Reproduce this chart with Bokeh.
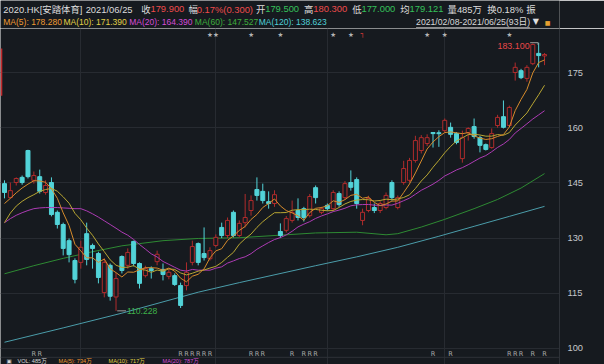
import numpy as np
import pandas as pd
from bokeh.plotting import figure
from bokeh.models import ColumnDataSource, Range1d, LinearAxis, FixedTicker, Grid, Span, BoxAnnotation
from bokeh.layouts import column
from bokeh.embed import file_html
from bokeh.resources import INLINE
from bokeh.core.properties import value

# ---------------- data ----------------
open_ = [144.8, 141.0, 145.1, 146.5, 153.8, 145.7, 146.7, 142.4, 145.1, 137.0,
         133.7, 129.3, 123.9, 123.4, 131.2, 128.0, 125.8, 115.2, 122.6, 114.0,
         125.0, 122.6, 129.1, 123.1, 119.8, 121.7, 123.6, 121.5, 119.6, 119.8,
         117.1, 117.1, 123.4, 128.5, 125.8, 124.4, 128.0, 132.9, 130.7, 137.0,
         130.7, 134.2, 137.5, 143.2, 142.7, 139.9, 139.4, 131.8, 132.1, 134.8,
         137.5, 138.0, 136.1, 143.7, 137.0, 138.9, 138.0, 142.1, 141.0, 145.1,
         145.9, 134.8, 137.5, 138.3, 137.5, 138.3, 145.1, 138.3, 145.1, 145.7,
         151.1, 153.8, 155.7, 158.7, 158.6, 159.2, 160.1, 158.4, 151.6, 158.7,
         160.3, 157.3, 155.4, 154.6, 160.6, 163.0, 160.6, 175.0, 175.5, 173.4,
         177.4, 180.2, 179.5]
high = [145.7, 145.1, 146.5, 147.0, 154.0, 148.1, 148.6, 145.7, 146.5, 137.5,
        134.2, 129.9, 124.5, 129.3, 134.2, 128.5, 126.3, 124.5, 123.1, 120.5,
        125.3, 127.2, 129.3, 123.4, 122.5, 122.3, 126.6, 123.1, 121.5, 120.4,
        117.9, 123.4, 129.3, 128.8, 132.9, 127.5, 131.0, 134.2, 135.6, 137.5,
        134.8, 142.0, 141.6, 146.5, 144.8, 142.7, 143.0, 134.0, 136.0, 140.2,
        140.8, 138.5, 142.0, 144.3, 138.5, 139.4, 143.0, 142.7, 145.5, 148.4,
        146.5, 138.0, 141.5, 139.4, 140.0, 142.4, 145.7, 141.6, 151.0, 151.8,
        157.8, 158.0, 158.2, 158.7, 159.3, 162.5, 161.4, 158.8, 159.2, 160.1,
        162.5, 157.8, 155.7, 159.8, 163.5, 167.4, 166.0, 177.7, 176.0, 177.0,
        182.9, 183.1, 180.3]
low = [140.8, 140.8, 144.3, 144.5, 146.2, 144.8, 142.1, 141.8, 135.9, 132.6,
       125.3, 123.4, 117.7, 121.7, 122.6, 121.7, 117.7, 113.9, 113.0, 110.228,
       120.4, 121.7, 122.3, 116.3, 119.3, 119.0, 122.6, 118.5, 118.8, 117.0,
       111.0, 115.8, 122.6, 122.6, 123.9, 123.9, 127.5, 130.0, 130.0, 130.2,
       130.2, 132.9, 136.1, 140.2, 139.4, 138.0, 138.5, 130.0, 131.5, 134.2,
       134.8, 134.5, 135.6, 139.4, 136.5, 137.5, 137.5, 138.5, 140.5, 142.9,
       138.0, 133.5, 137.0, 136.8, 136.8, 137.8, 140.2, 137.8, 144.5, 145.1,
       150.5, 153.0, 155.0, 154.6, 154.8, 158.7, 157.3, 155.5, 150.5, 156.5,
       157.0, 153.3, 153.8, 154.3, 160.0, 159.8, 160.3, 172.8, 173.2, 172.5,
       177.0, 176.4, 177.0]
close = [142.4, 142.9, 146.2, 145.1, 146.7, 147.0, 142.7, 144.3, 136.4, 133.7,
         127.2, 125.5, 118.8, 127.5, 124.2, 127.2, 119.3, 123.4, 114.2, 119.0,
         121.2, 126.1, 123.1, 117.7, 121.7, 121.2, 125.6, 120.1, 120.7, 117.4,
         111.7, 120.7, 127.7, 123.4, 124.7, 126.6, 130.2, 130.7, 134.8, 130.7,
         134.0, 135.6, 140.2, 141.6, 140.2, 139.4, 141.8, 130.7, 135.3, 137.0,
         135.6, 135.6, 141.3, 141.0, 138.0, 138.0, 142.4, 139.1, 144.8, 143.8,
         139.4, 137.0, 140.8, 137.5, 139.4, 141.6, 141.0, 141.0, 148.9, 151.1,
         156.5, 157.3, 157.3, 158.4, 158.4, 162.0, 158.2, 156.0, 157.3, 159.8,
         157.6, 155.2, 154.1, 158.4, 162.8, 160.1, 165.5, 176.4, 173.6, 176.4,
         182.6, 179.6, 179.9]

# moving-average values at the window start (earlier closes not shown)
ma5_head = [139.4, 140.8, 142.3, 143.6]
ma10_head = [134.2, 136.8, 138.7, 140.0, 141.0, 141.8, 142.7, 143.2, 143.5]
ma20_head = [134.2, 135.3, 136.2, 136.9, 137.5, 138.0, 138.2, 138.3, 138.3, 138.3,
             138.2, 138.1, 138.0, 138.0, 137.4, 136.6, 135.7, 134.7, 133.7]
# long MAs at candle indices
ma60_idx = [0, 5, 10, 15, 20, 27, 33, 40, 53, 60, 65, 67, 71, 75, 80, 84, 88, 92]
ma60_val = [120.3, 122.5, 124.5, 126.3, 127.9, 129.3, 129.9, 130.1, 131.4, 131.6,
            130.9, 131.2, 133.0, 135.1, 138.0, 140.5, 143.6, 147.527]
ma120_idx = [0, 10, 20, 33, 40, 53, 60, 67, 74, 80, 86, 92]
ma120_val = [101.7, 105.6, 109.6, 115.3, 117.9, 122.5, 124.9, 127.5, 130.5, 133.2,
             135.9, 138.623]

ma_names = ["MA(5)", "MA(10)", "MA(20)", "MA(60)", "MA(120)"]
ma_last = [178.280, 171.390, 164.390, 147.527, 138.623]

price_ticks = [100, 115, 130, 145, 160, 175]
star_idx = [35, 36, 42, 47, 56, 59, 72, 75, 86]
flag_idx = [61]
r_idx = [5, 6, 30, 31, 32, 33, 34, 35, 42, 43, 44, 49, 51, 52, 53, 73, 76, 86, 87, 88, 90, 92]

avg_price = "179.121"
volume_txt = "量485万"
turnover_txt = "换0.18%"
vol_row = ["VOL: 485万", "MA(5): 734万", "MA(10): 717万", "MA(20): 787万"]

holidays = ["2021-02-12", "2021-02-15", "2021-04-02", "2021-04-05", "2021-04-06",
            "2021-05-19", "2021-06-14"]
dates = [d for d in pd.bdate_range("2021-02-08", "2021-06-25")
         if d.strftime("%Y-%m-%d") not in holidays]

# ---------------- derived ----------------
n = len(close)
idx = np.arange(n)
month_starts = [i for i in range(1, len(dates)) if dates[i].month != dates[i - 1].month]

cs = pd.Series(close)
ma5 = cs.rolling(5).mean().to_numpy(); ma5[:4] = ma5_head
ma10 = cs.rolling(10).mean().to_numpy(); ma10[:9] = ma10_head
ma20 = cs.rolling(20).mean().to_numpy(); ma20[:19] = ma20_head

o = np.array(open_); c = np.array(close); h = np.array(high); l = np.array(low)
up = c >= o
top = np.maximum(o, c); bot = np.minimum(o, c)
thin = (top - bot) < 0.25
mid = (top + bot) / 2
top = np.where(thin, mid + 0.125, top)
bot = np.where(thin, mid - 0.125, bot)

# ---------------- styles ----------------
BG = "#161a1f"
GRID = "#272b31"
RED_C = "#b02c2c"
CYAN_C = "#52d3d8"
TXT = "#dcdcdc"
RED_T = "#ee4b4b"
GRN_T = "#35c05a"
MA_LINE = ["#d68b2c", "#b8a633", "#ad3cb4", "#2e8a33", "#4b9daa"]
MA_LBL = ["#f09a32", "#e2d046", "#d44cd8", "#3fae3c", "#4fcfd6"]
FONT = value("Liberation Sans, Noto Sans CJK SC")

W = 604
SX = 5.87          # px per candle
X0 = 4.0           # x of candle 0


def xi(px):
    return (px - X0) / SX


# ---------------- header figure ----------------
hdr = figure(width=W, height=28, x_range=Range1d(0, 604), y_range=Range1d(28, 0),
             toolbar_location=None, output_backend="svg", x_axis_type=None,
             y_axis_type=None, min_border=0, title=None)
hdr.outline_line_color = None
hdr.background_fill_color = BG
hdr.border_fill_color = BG
hdr.xgrid.visible = False
hdr.ygrid.visible = False

chg = close[-1] - close[-2]
pct = chg / close[-2] * 100
row1 = [("2020.HK[安踏体育]", 3, TXT), (dates[-1].strftime("%Y/%m/%d"), 92, TXT),
        ("收", 152, TXT), (f"{close[-1]:.3f}", 162, RED_T),
        ("幅", 203, TXT), (f"{pct:.2f}%({chg:.3f})", 212, RED_T),
        ("开", 276, TXT), (f"{open_[-1]:.3f}", 286, GRN_T),
        ("高", 328, TXT), (f"{high[-1]:.3f}", 338, RED_T),
        ("低", 380, TXT), (f"{low[-1]:.3f}", 390, GRN_T),
        ("均", 432, TXT), (avg_price, 442, GRN_T),
        (volume_txt, 483, TXT), (turnover_txt, 526, TXT), ("振", 568, TXT)]
s1 = ColumnDataSource(dict(x=[r[1] for r in row1], y=[8.6] * len(row1),
                           t=[r[0] for r in row1], c=[r[2] for r in row1]))
hdr.text(x="x", y="y", text="t", text_color="c", source=s1, text_font=FONT,
         text_font_size=value("9.4px"), text_baseline="middle", text_align="left")

ma_x = [3, 68, 139, 210, 279]
s2 = ColumnDataSource(dict(x=ma_x, y=[21.4] * 5,
                           t=[f"{nm}: {v:.3f}" for nm, v in zip(ma_names, ma_last)], c=MA_LBL))
hdr.text(x="x", y="y", text="t", text_color="c", source=s2, text_font=FONT,
         text_font_size=value("8.5px"), text_baseline="middle", text_align="left")

rng = f"{dates[0]:%Y/%m/%d}-{dates[-1]:%Y/%m/%d}({n}日)"
hdr.text(x=[449], y=[21.4], text=[rng], text_color="#d8d8d8", text_font=FONT,
         text_font_size=value("8.7px"), text_baseline="middle", text_align="left")
hdr.segment(x0=[449], y0=[27.2], x1=[572], y1=[27.2], line_color="#a8a8a8", line_width=1)
hdr.text(x=[575], y=[21.2], text=["▼"], text_color="#e0e0e0", text_font=value("DejaVu Sans"),
         text_font_size=value("8px"), text_baseline="middle", text_align="left")
hdr.text(x=[588], y=[22], text=["■"], text_color="#e8a030", text_font=value("DejaVu Sans"),
         text_font_size=value("6px"), text_baseline="middle", text_align="left")

# ---------------- main figure ----------------
p = figure(width=W, height=336, x_range=Range1d(xi(0), xi(559)),
           y_range=Range1d(95.65, 186.96), toolbar_location=None, output_backend="svg",
           x_axis_type=None, y_axis_type=None, min_border_left=0, min_border_top=0,
           min_border_bottom=0, min_border_right=45, title=None)
p.outline_line_color = None
p.background_fill_color = BG
p.border_fill_color = BG
p.add_layout(Grid(dimension=1, ticker=FixedTicker(ticks=price_ticks),
                  grid_line_color=GRID, grid_line_width=1))
p.add_layout(Grid(dimension=0, ticker=FixedTicker(ticks=month_starts),
                  grid_line_color=GRID, grid_line_width=1))
yax = LinearAxis(ticker=FixedTicker(ticks=price_ticks), axis_line_color="#2e3238",
                 major_tick_line_color=None, minor_tick_line_color=None,
                 major_label_text_color="#c4c7cc", major_label_text_font_size="9.3px",
                 major_label_text_font="Liberation Sans", major_label_standoff=2)
p.add_layout(yax, "right")
p.add_layout(Span(location=97.6, dimension="width", line_color="#2e3238", line_width=1))
p.add_layout(BoxAnnotation(left=xi(0), right=xi(1.8), bottom=168.7, top=181.5,
                           fill_color="#c42a2c", fill_alpha=1.0, line_color=None))

# long MAs under candles
p.line(ma120_idx, ma120_val, line_color=MA_LINE[4], line_width=1)
p.line(ma60_idx, ma60_val, line_color=MA_LINE[3], line_width=1)

col = np.where(up, RED_C, CYAN_C)
fill = np.where(up, BG, CYAN_C)
cs_src = ColumnDataSource(dict(x=idx, left=idx - 0.34, right=idx + 0.34, h=h, l=l,
                               top=top, bot=bot, col=col, fill=fill))
p.segment(x0="x", y0="h", x1="x", y1="l", line_color="col", line_width=1, source=cs_src)
p.quad(left="left", right="right", top="top", bottom="bot", fill_color="fill",
       line_color="col", line_width=1, source=cs_src)

p.line(idx, ma20, line_color=MA_LINE[2], line_width=1)
p.line(idx, ma10, line_color=MA_LINE[1], line_width=1)
p.line(idx, ma5, line_color=MA_LINE[0], line_width=1)

# event markers
p.text(x=star_idx, y=[185.3] * len(star_idx), text=["★"] * len(star_idx),
       text_color="#b4b4b4", text_font=value("DejaVu Sans"), text_font_size=value("6.5px"),
       text_align="center", text_baseline="middle")
p.text(x=flag_idx, y=[185.4] * len(flag_idx), text=["┐"] * len(flag_idx),
       text_color="#e03a3a", text_font=value("DejaVu Sans"), text_font_size=value("7px"),
       text_align="center", text_baseline="middle")
p.text(x=r_idx, y=[98.5] * len(r_idx), text=["R"] * len(r_idx),
       text_color="#a8a8a8", text_font=value("DejaVu Sans"), text_font_size=value("6.5px"),
       text_align="center", text_baseline="middle")

# high / low annotations
hi_i = int(np.argmax(h)); lo_i = int(np.argmin(l))
p.text(x=[hi_i - 1.55], y=[182.3], text=[f"{h[hi_i]:.3f}"], text_color="#e84848",
       text_font=value("Liberation Sans"), text_font_size=value("8.9px"),
       text_align="right", text_baseline="middle")
p.segment(x0=[hi_i - 1.45], y0=[h[hi_i]], x1=[hi_i - 0.1], y1=[h[hi_i]],
          line_color="#a0a0a0", line_width=1)
p.segment(x0=[hi_i - 0.1], y0=[h[hi_i]], x1=[hi_i - 0.1], y1=[h[hi_i] - 0.6],
          line_color="#a0a0a0", line_width=1)
p.text(x=[lo_i + 1.85], y=[l[lo_i]], text=[f"{l[lo_i]:.3f}"], text_color="#3fb24a",
       text_font=value("Liberation Sans"), text_font_size=value("8.6px"),
       text_align="left", text_baseline="middle")
p.segment(x0=[lo_i + 0.2], y0=[l[lo_i]], x1=[lo_i + 1.7], y1=[l[lo_i]],
          line_color="#a0a0a0", line_width=1)

# volume panel header row (shrunk so it fits under the separator)
vx = [17, 58, 108, 162]
vcol = ["#d8d8d8", "#f09a32", "#e2d046", "#d44cd8"]
p.text(x=[xi(v) for v in vx], y=[96.5] * 4, text=vol_row, text_color=vcol,
       text_font=FONT, text_font_size=value("5.6px"), text_align="left",
       text_baseline="middle")
p.text(x=[xi(6)], y=[96.5], text=["▣"], text_color="#d8d8d8",
       text_font=value("DejaVu Sans"), text_font_size=value("5.6px"),
       text_align="left", text_baseline="middle")

layout = column(hdr, p)
open("out.html", "w").write(file_html(layout, INLINE))
